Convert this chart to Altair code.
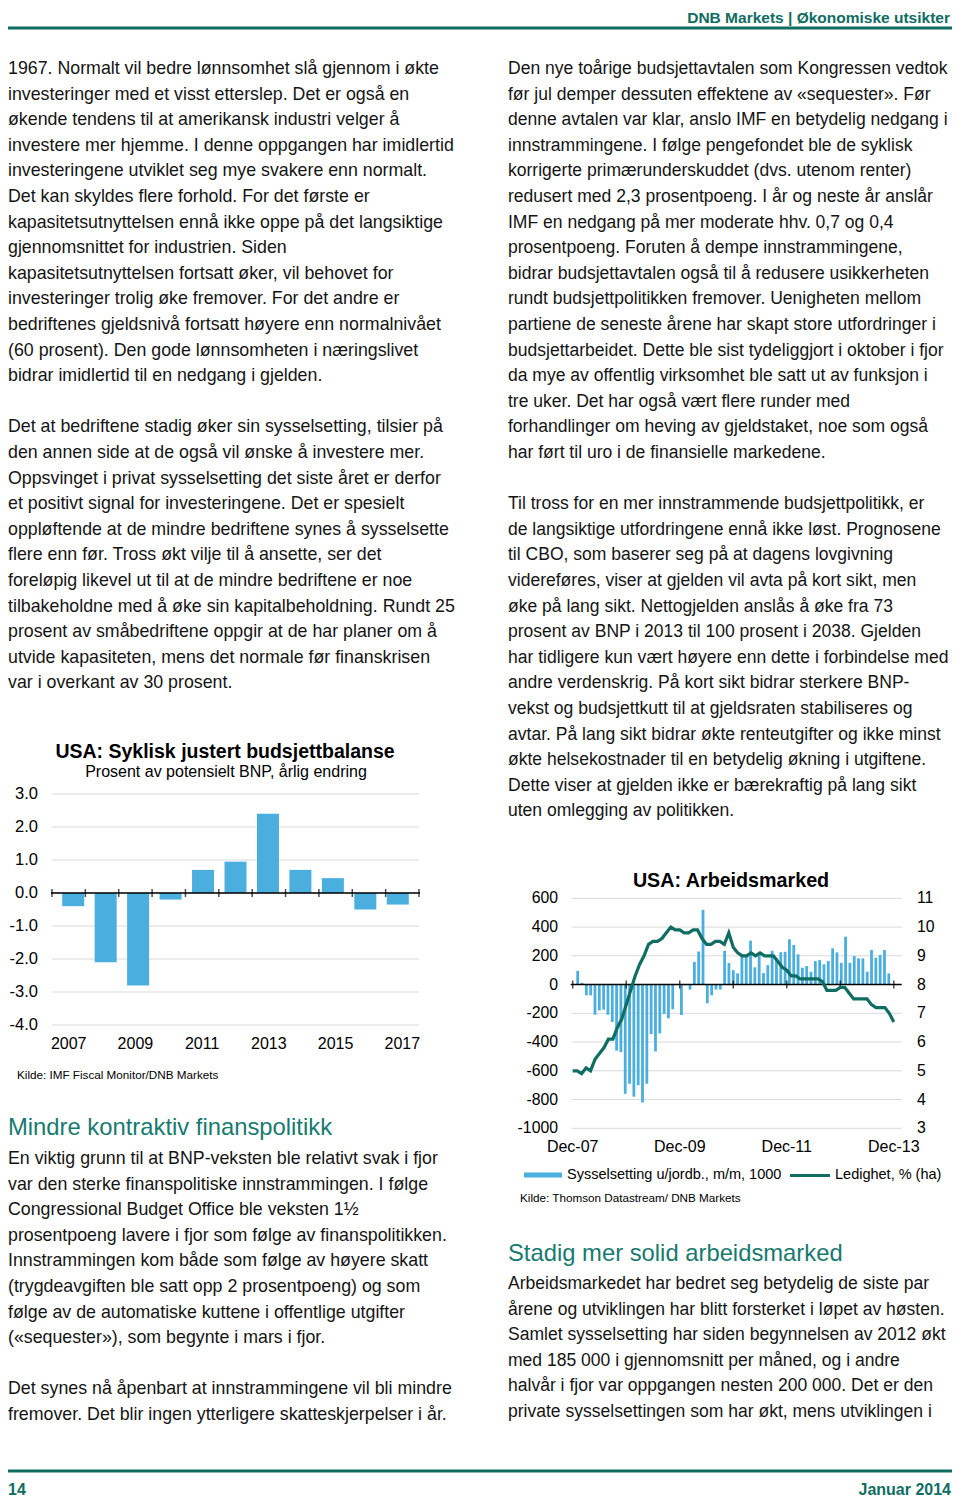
import altair as alt
import pandas as pd

# ---------------- data ----------------
years = [2007, 2008, 2009, 2010, 2011, 2012, 2013, 2014, 2015, 2016, 2017]
balance = [-0.4, -2.1, -2.8, -0.2, 0.7, 0.95, 2.4, 0.7, 0.45, -0.5, -0.35]
bal_ticks = [3.0, 2.0, 1.0, 0.0, -1.0, -2.0, -3.0, -4.0]
bal_tick_labels = ["3.0", "2.0", "1.0", "0.0", "-1.0", "-2.0", "-3.0", "-4.0"]
bal_year_labels = [2007, 2009, 2011, 2013, 2015, 2017]

payrolls = [95, 12, -75, -75, -210, -180, -175, -210, -260, -460, -470, -760,
            -690, -780, -700, -820, -690, -345, -465, -340, -205, -235, -172, 4,
            -212, -5, -35, 158, 230, 520, -130, -75, -35, -35, 235, 150,
            100, 78, 195, 205, 305, 120, 215, 80, 135, 235, 182, 225,
            228, 315, 275, 210, 117, 128, 89, 163, 170, 140, 163, 252,
            224, 151, 333, 151, 198, 182, 182, 89, 240, 186, 205, 240, 77]
unemp = [5.0, 5.0, 4.9, 5.1, 5.0, 5.4, 5.6, 5.8, 6.1, 6.1, 6.5, 6.8,
         7.3, 7.8, 8.3, 8.7, 9.0, 9.4, 9.5, 9.5, 9.6, 9.8, 10.0, 9.9,
         9.9, 9.8, 9.8, 9.9, 9.9, 9.6, 9.4, 9.4, 9.5, 9.5, 9.4, 9.8,
         9.3, 9.1, 9.0, 9.0, 9.1, 9.0, 9.1, 9.0, 9.0, 9.0, 8.8, 8.6,
         8.5, 8.3, 8.3, 8.2, 8.2, 8.2, 8.2, 8.2, 8.1, 7.8, 7.8, 7.8,
         7.9, 7.9, 7.7, 7.5, 7.5, 7.5, 7.5, 7.3, 7.2, 7.2, 7.2, 7.0, 6.7]
emp_ticks = [600, 400, 200, 0, -200, -400, -600, -800, -1000]
emp_tick_labels = ["600", "400", "200", "0", "-200", "-400", "-600", "-800", "-1000"]
rate_ticks = [11, 10, 9, 8, 7, 6, 5, 4, 3]
rate_tick_labels = ["11", "10", "9", "8", "7", "6", "5", "4", "3"]
month_label_idx = [0, 24, 48, 72]
month_labels = ["Dec-07", "Dec-09", "Dec-11", "Dec-13"]
month_tick_idx = [0, 12, 24, 36, 48, 60, 72]

left_text = [
    "1967. Normalt vil bedre lønnsomhet slå gjennom i økte",
    "investeringer med et visst etterslep. Det er også en",
    "økende tendens til at amerikansk industri velger å",
    "investere mer hjemme. I denne oppgangen har imidlertid",
    "investeringene utviklet seg mye svakere enn normalt.",
    "Det kan skyldes flere forhold. For det første er",
    "kapasitetsutnyttelsen ennå ikke oppe på det langsiktige",
    "gjennomsnittet for industrien. Siden",
    "kapasitetsutnyttelsen fortsatt øker, vil behovet for",
    "investeringer trolig øke fremover. For det andre er",
    "bedriftenes gjeldsnivå fortsatt høyere enn normalnivået",
    "(60 prosent). Den gode lønnsomheten i næringslivet",
    "bidrar imidlertid til en nedgang i gjelden.",
    "",
    "Det at bedriftene stadig øker sin sysselsetting, tilsier på",
    "den annen side at de også vil ønske å investere mer.",
    "Oppsvinget i privat sysselsetting det siste året er derfor",
    "et positivt signal for investeringene. Det er spesielt",
    "oppløftende at de mindre bedriftene synes å sysselsette",
    "flere enn før. Tross økt vilje til å ansette, ser det",
    "foreløpig likevel ut til at de mindre bedriftene er noe",
    "tilbakeholdne med å øke sin kapitalbeholdning. Rundt 25",
    "prosent av småbedriftene oppgir at de har planer om å",
    "utvide kapasiteten, mens det normale før finanskrisen",
    "var i overkant av 30 prosent.",
]
left_text2 = [
    "En viktig grunn til at BNP-veksten ble relativt svak i fjor",
    "var den sterke finanspolitiske innstrammingen. I følge",
    "Congressional Budget Office ble veksten 1½",
    "prosentpoeng lavere i fjor som følge av finanspolitikken.",
    "Innstrammingen kom både som følge av høyere skatt",
    "(trygdeavgiften ble satt opp 2 prosentpoeng) og som",
    "følge av de automatiske kuttene i offentlige utgifter",
    "(«sequester»), som begynte i mars i fjor.",
    "",
    "Det synes nå åpenbart at innstrammingene vil bli mindre",
    "fremover. Det blir ingen ytterligere skatteskjerpelser i år.",
]
right_text = [
    "Den nye toårige budsjettavtalen som Kongressen vedtok",
    "før jul demper dessuten effektene av «sequester». Før",
    "denne avtalen var klar, anslo IMF en betydelig nedgang i",
    "innstrammingene. I følge pengefondet ble de syklisk",
    "korrigerte primærunderskuddet (dvs. utenom renter)",
    "redusert med 2,3 prosentpoeng. I år og neste år anslår",
    "IMF en nedgang på mer moderate hhv. 0,7 og 0,4",
    "prosentpoeng. Foruten å dempe innstrammingene,",
    "bidrar budsjettavtalen også til å redusere usikkerheten",
    "rundt budsjettpolitikken fremover. Uenigheten mellom",
    "partiene de seneste årene har skapt store utfordringer i",
    "budsjettarbeidet. Dette ble sist tydeliggjort i oktober i fjor",
    "da mye av offentlig virksomhet ble satt ut av funksjon i",
    "tre uker. Det har også vært flere runder med",
    "forhandlinger om heving av gjeldstaket, noe som også",
    "har ført til uro i de finansielle markedene.",
    "",
    "Til tross for en mer innstrammende budsjettpolitikk, er",
    "de langsiktige utfordringene ennå ikke løst. Prognosene",
    "til CBO, som baserer seg på at dagens lovgivning",
    "videreføres, viser at gjelden vil avta på kort sikt, men",
    "øke på lang sikt. Nettogjelden anslås å øke fra 73",
    "prosent av BNP i 2013 til 100 prosent i 2038. Gjelden",
    "har tidligere kun vært høyere enn dette i forbindelse med",
    "andre verdenskrig. På kort sikt bidrar sterkere BNP-",
    "vekst og budsjettkutt til at gjeldsraten stabiliseres og",
    "avtar. På lang sikt bidrar økte renteutgifter og ikke minst",
    "økte helsekostnader til en betydelig økning i utgiftene.",
    "Dette viser at gjelden ikke er bærekraftig på lang sikt",
    "uten omlegging av politikken.",
]
right_text2 = [
    "Arbeidsmarkedet har bedret seg betydelig de siste par",
    "årene og utviklingen har blitt forsterket i løpet av høsten.",
    "Samlet sysselsetting har siden begynnelsen av 2012 økt",
    "med 185 000 i gjennomsnitt per måned, og i andre",
    "halvår i fjor var oppgangen nesten 200 000. Det er den",
    "private sysselsettingen som har økt, mens utviklingen i",
]

# ---------------- styles ----------------
W, H = 944, 1492
FONT = "Liberation Sans, Arial, sans-serif"
NARROW = "Liberation Sans Narrow, Arial Narrow, Liberation Sans, sans-serif"
BODY = "#141414"
TEAL = "#177a6f"
DARK_TEAL = "#0f6d62"
BLUE = "#4aaedf"
GRID = "#d9d9d9"
LH = 25.6
BODY_SIZE = 17.8
RIGHT_SIZE = 17.55


def text_block(lines, x, y0, lh=LH, size=BODY_SIZE, color=BODY):
    df = pd.DataFrame({"i": list(range(len(lines))), "t": lines})
    return alt.Chart(df).mark_text(
        align="left", baseline="middle", fontSize=size, font=FONT, color=color
    ).encode(
        x=alt.value(x),
        y=alt.Y("i:Q", scale=alt.Scale(domain=[0, 1], range=[y0, y0 + lh], nice=False, zero=False), axis=None),
        text="t:N",
    )


def one_text(t, x, y, size, color=BODY, weight="normal", align="left", font=FONT):
    return alt.Chart(pd.DataFrame({"t": [t]})).mark_text(
        align=align, baseline="middle", fontSize=size, font=font, color=color, fontWeight=weight
    ).encode(x=alt.value(x), y=alt.value(y), text="t:N")


def hrule(x1, x2, y, color, width):
    return alt.Chart(pd.DataFrame({"a": [0]})).mark_rule(color=color, strokeWidth=width).encode(
        x=alt.value(x1), x2=alt.value(x2), y=alt.value(y))


layers = []

# header / footer
layers.append(one_text("DNB Markets | Økonomiske utsikter", 942, 10, 15.5, DARK_TEAL, "bold", "right", NARROW))
layers.append(hrule(0, 944, 20, DARK_TEAL, 3))
layers.append(hrule(0, 944, 1463, DARK_TEAL, 3))
layers.append(one_text("14", 0, 1482, 16, DARK_TEAL, "bold", "left", NARROW))
layers.append(one_text("Januar 2014", 943, 1482, 16, DARK_TEAL, "bold", "right", NARROW))

# body text
layers.append(text_block(left_text, 0, 61))
layers.append(one_text("Mindre kontraktiv finanspolitikk", 0, 1120, 23.8, TEAL))
layers.append(text_block(left_text2, 0, 1151))
layers.append(text_block(right_text, 500, 61, size=RIGHT_SIZE))
layers.append(one_text("Stadig mer solid arbeidsmarked", 500, 1246, 23.8, TEAL))
layers.append(text_block(right_text2, 500, 1276, size=RIGHT_SIZE))

# ---------------- left chart: budget balance ----------------
bx = alt.Scale(domain=[years[0] - 0.5, years[-1] + 0.5], range=[44, 411], nice=False, zero=False)
by = alt.Scale(domain=[-4, 3], range=[1017, 786], nice=False, zero=False)

layers.append(one_text("USA: Syklisk justert budsjettbalanse", 217, 744, 19.5, "#000", "bold", "center"))
layers.append(one_text("Prosent av potensielt BNP, årlig endring", 218, 764, 16, "#000", "normal", "center"))

btick = pd.DataFrame({"v": bal_ticks, "lab": bal_tick_labels})
layers.append(alt.Chart(btick).mark_rule(color=GRID, strokeWidth=1).encode(
    y=alt.Y("v:Q", scale=by, axis=None), x=alt.value(44), x2=alt.value(411)))
layers.append(alt.Chart(btick).mark_text(align="right", baseline="middle", fontSize=16.5, font=FONT, color="#000").encode(
    y=alt.Y("v:Q", scale=by, axis=None), x=alt.value(30), text="lab:N"))

bdf = pd.DataFrame({"year": years, "val": balance})
layers.append(alt.Chart(bdf).mark_bar(size=22, color=BLUE).encode(
    x=alt.X("year:Q", scale=bx, axis=None),
    y=alt.Y("val:Q", scale=by, axis=None),
    y2=alt.datum(0)))

zero_b = pd.DataFrame({"z": [0.0]})
layers.append(alt.Chart(zero_b).mark_rule(color="#000", strokeWidth=1.6).encode(
    y=alt.Y("z:Q", scale=by, axis=None), x=alt.value(43), x2=alt.value(412)))
bbound = pd.DataFrame({"b": [y - 0.5 for y in years] + [years[-1] + 0.5]})
layers.append(alt.Chart(bbound).transform_calculate(z="0").mark_tick(
    orient="vertical", size=8, thickness=1.5, color="#000").encode(
    x=alt.X("b:Q", scale=bx, axis=None), y=alt.Y("z:Q", scale=by, axis=None)))

blab = pd.DataFrame({"year": bal_year_labels})
layers.append(alt.Chart(blab).mark_text(baseline="middle", fontSize=16, font=FONT, color="#000").encode(
    x=alt.X("year:Q", scale=bx, axis=None), y=alt.value(1036), text=alt.Text("year:Q", format="d")))
layers.append(one_text("Kilde: IMF Fiscal Monitor/DNB Markets", 9, 1067, 11.7, "#000"))

# ---------------- right chart: labour market ----------------
rx = alt.Scale(domain=[0, 72], range=[564.7, 885.8], nice=False, zero=False)
ry = alt.Scale(domain=[-1000, 600], range=[1120.3, 890.3], nice=False, zero=False)
ry2 = alt.Scale(domain=[3, 11], range=[1120.3, 890.3], nice=False, zero=False)

layers.append(one_text("USA: Arbeidsmarked", 723, 873, 19.7, "#000", "bold", "center"))

etick = pd.DataFrame({"v": emp_ticks, "lab": emp_tick_labels})
layers.append(alt.Chart(etick).mark_rule(color=GRID, strokeWidth=1).encode(
    y=alt.Y("v:Q", scale=ry, axis=None), x=alt.value(563.7), x2=alt.value(893.7)))
layers.append(alt.Chart(etick).mark_text(align="right", baseline="middle", fontSize=15.8, font=FONT, color="#000").encode(
    y=alt.Y("v:Q", scale=ry, axis=None), x=alt.value(550), text="lab:N"))
rtick = pd.DataFrame({"v": rate_ticks, "lab": rate_tick_labels})
layers.append(alt.Chart(rtick).mark_text(align="left", baseline="middle", fontSize=15.8, font=FONT, color="#000").encode(
    y=alt.Y("v:Q", scale=ry2, axis=None), x=alt.value(909), text="lab:N"))

edf = pd.DataFrame({"i": list(range(len(payrolls))), "emp": payrolls, "u": unemp})
layers.append(alt.Chart(edf).mark_bar(size=2.8, color=BLUE).encode(
    x=alt.X("i:Q", scale=rx, axis=None),
    y=alt.Y("emp:Q", scale=ry, axis=None),
    y2=alt.datum(0)))
layers.append(alt.Chart(zero_b).mark_rule(color="#000", strokeWidth=1.6).encode(
    y=alt.Y("z:Q", scale=ry, axis=None), x=alt.value(562.7), x2=alt.value(893.7)))
mt = pd.DataFrame({"m": month_tick_idx})
layers.append(alt.Chart(mt).transform_calculate(z="0").mark_tick(
    orient="vertical", size=8, thickness=1.5, color="#000").encode(
    x=alt.X("m:Q", scale=rx, axis=None), y=alt.Y("z:Q", scale=ry, axis=None)))
layers.append(alt.Chart(edf).mark_line(color=DARK_TEAL, strokeWidth=3.2).encode(
    x=alt.X("i:Q", scale=rx, axis=None),
    y=alt.Y("u:Q", scale=ry2, axis=None)))

ml = pd.DataFrame({"m": month_label_idx, "lab": month_labels})
layers.append(alt.Chart(ml).mark_text(baseline="middle", fontSize=16, font=FONT, color="#000").encode(
    x=alt.X("m:Q", scale=rx, axis=None), y=alt.value(1139), text="lab:N"))

# legend
layers.append(alt.Chart(pd.DataFrame({"a": [0]})).mark_rect(color=BLUE).encode(
    x=alt.value(516), x2=alt.value(554), y=alt.value(1164.5), y2=alt.value(1169.5)))
layers.append(one_text("Sysselsetting u/jordb., m/m, 1000", 559, 1167, 14.5, "#000"))
layers.append(hrule(782, 822, 1167.5, DARK_TEAL, 3))
layers.append(one_text("Ledighet, % (ha)", 827, 1167, 14.5, "#000"))
layers.append(one_text("Kilde: Thomson  Datastream/  DNB Markets", 512, 1190, 11.7, "#000"))

chart = alt.layer(*layers).resolve_scale(x="independent", y="independent").properties(
    width=W, height=H, padding=0, autosize=alt.AutoSizeParams(type="none"), background="white"
).configure_view(stroke=None)

chart.save("out.html", embed_options={"renderer": "svg", "actions": False})
